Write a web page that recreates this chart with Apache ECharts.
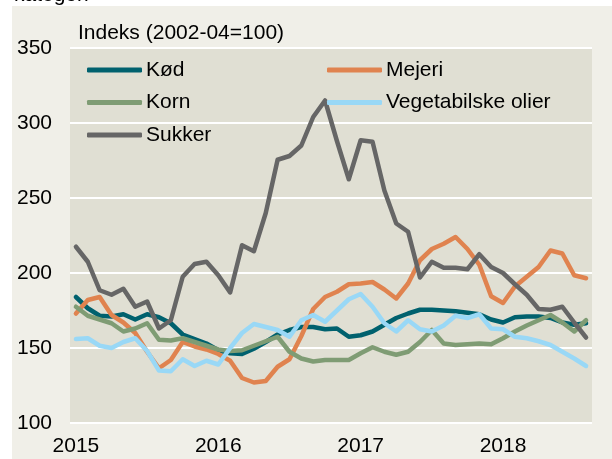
<!DOCTYPE html>
<html><head><meta charset="utf-8">
<script src="https://cdn.jsdelivr.net/npm/echarts@6/dist/echarts.min.js"></script>
<style>html,body{margin:0;padding:0;background:#fff}#c{width:612px;height:459px}</style>
</head><body><div id="c"></div>
<script>
// Monthly, Jan 2015 – Aug 2018
const years = ['2015', '2016', '2017', '2018'];
const monthsShown = 44;
const unitLabel = 'Indeks (2002-04=100)';
const names = ['Kød', 'Mejeri', 'Korn', 'Vegetabilske olier', 'Sukker'];

const kod = [184, 176.5, 171.5, 171, 172.5, 169, 172.5, 170.5, 166.5, 159, 156, 153, 148.5, 146.5, 146, 149.5, 154, 159, 162,
  164, 164, 162.5, 163, 157.5, 158.5, 161, 165.5, 170, 173, 175.5,
  175.5, 175, 174.5, 173.5, 172.5, 169, 167, 170.5, 171, 171, 170, 167, 165.5, 166.5];
const mejeri = [173, 182, 184, 172, 167, 160, 147.5, 136.5, 142, 154, 151, 149, 146, 141.5, 130, 127, 128, 137.5, 142.5, 158,
  176, 184, 187.5, 192.5, 193, 194, 189, 183, 193, 208.5, 216, 219.5, 224, 216, 205.5, 184.5, 180, 191, 197.5, 204,
  215, 213, 198.5, 196.5];
const korn = [177.5, 171.5, 169, 166.5, 161, 163, 166.5, 155.5, 155, 156.5, 154, 151.5, 149, 148, 148.5, 151.5, 154.5, 157.5, 147.5, 143,
  141, 142, 142, 142, 146.5, 150.5, 147.5, 145.5, 147.5, 154, 162, 153, 152, 152.5, 153, 152.5, 156.5, 161, 165, 168.5,
  172, 167, 161, 168.5];
const olier = [156, 156.5, 151.5, 150, 154, 156.5, 148, 135, 134.5, 142.5, 138, 141.5, 139, 150, 160, 166, 164, 162, 157.5, 168.5,
  172, 167.5, 175, 182.5, 186, 177.5, 166.5, 161, 168.5, 162.5, 161, 165, 171.5, 170, 172.5, 163, 162.5, 157.5, 156.5, 154.5,
  152, 147.5, 143, 138];
const sukker = [217.5, 207.5, 188.5, 185.5, 189.5, 177.5, 181, 163, 168.5, 197.5, 206, 207.5, 198.5, 187, 218.5, 214.5, 240, 275.5, 278, 285,
  304, 315, 288, 262.5, 288.5, 287.5, 255, 233, 227.5, 197, 207.5, 203.5, 203.5, 202.5, 212.5, 204, 200, 192.5, 185.5, 176,
  175.5, 177.5, 167, 157];

const colors = ['#00616e', '#e0834f', '#7f9c74', '#99d8f6', '#666666'];
const seriesData = [kod, mejeri, korn, olier, sukker];

const categories = [];
years.forEach(y => { for (let m = 1; m <= 12; m++) categories.push(y + '-' + (m < 10 ? '0' + m : m)); });
categories.length = monthsShown;

const FONT = '"Liberation Sans", Arial, sans-serif';
const chart = echarts.init(document.getElementById('c'), null, { renderer: 'canvas' });

const legendCommon = {
  orient: 'vertical', top: 59.5, itemWidth: 55, itemHeight: 5, itemGap: 11.5, icon: 'roundRect',
  textStyle: { fontSize: 21, lineHeight: 21, color: '#000', fontFamily: FONT, padding: [0, 0, 0, -1] },
  padding: 0, selectedMode: false
};

chart.setOption({
  backgroundColor: '#ffffff',
  animation: false,
  textStyle: { fontFamily: FONT },
  graphic: [
    { type: 'text', left: 14, top: -15, z: -3, style: { text: 'kategori', fontSize: 21, fontFamily: FONT, fill: '#000' } },
    { type: 'rect', shape: { x: 12, y: 6, width: 600, height: 453 }, z: -2, style: { fill: '#f0efe8' } },
    { type: 'text', left: 78, top: 23, z: 5, style: { text: unitLabel, fontSize: 21, fontFamily: FONT, fill: '#000' } }
  ],
  grid: { left: 70, right: 20, top: 48, bottom: 36, show: true, backgroundColor: '#e0dfd3', borderWidth: 0, containLabel: false },
  legend: [
    Object.assign({}, legendCommon, { left: 87, data: [names[0], names[2], names[4]] }),
    Object.assign({}, legendCommon, { left: 327, data: [names[1], names[3]] })
  ],
  xAxis: {
    type: 'category', data: categories, boundaryGap: true,
    axisLine: { show: false }, axisTick: { show: false }, splitLine: { show: false },
    axisLabel: {
      interval: (i) => i % 12 === 0,
      formatter: (v) => v.slice(0, 4),
      fontSize: 21, color: '#000', margin: 13, fontFamily: FONT
    }
  },
  yAxis: {
    type: 'value', min: 100, max: 350, interval: 50,
    axisLine: { show: false }, axisTick: { show: false },
    splitLine: { show: true, lineStyle: { color: '#ffffff', width: 2 } },
    axisLabel: { fontSize: 21, color: '#000', margin: 18, fontFamily: FONT }
  },
  series: names.map((n, k) => ({
    name: n, type: 'line', data: seriesData[k], symbol: 'none', smooth: false,
    lineStyle: { width: 4.5, color: colors[k], cap: 'round', join: 'round' },
    itemStyle: { color: colors[k] }
  }))
});
</script>
</body></html>
